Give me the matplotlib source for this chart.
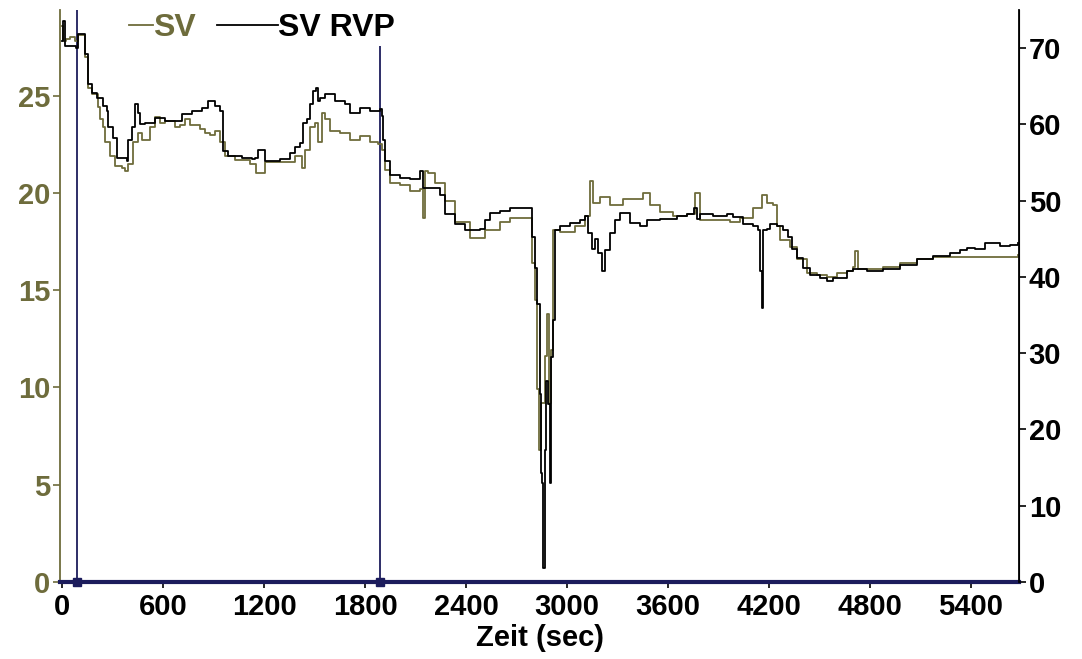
import matplotlib
matplotlib.use("Agg")
import matplotlib.pyplot as plt

# ---- data ----
t_sv = [0, 6, 24, 48, 77, 95, 107, 137, 154, 178, 214, 226, 244, 255, 285, 315, 356, 374, 392, 422,
        451, 475, 523, 552, 582, 612, 671, 701, 731, 760, 820, 849, 879, 909, 939, 968, 1028, 1087,
        1117, 1152, 1206, 1295, 1384, 1426, 1443, 1473, 1503, 1521, 1544, 1562, 1592, 1651, 1711,
        1770, 1830, 1877, 1901, 1919, 1948, 2008, 2067, 2127, 2144, 2156, 2174, 2215, 2275, 2334,
        2424, 2513, 2602, 2661, 2780, 2792, 2810, 2822, 2833, 2845, 2869, 2881, 2893, 2905, 2917,
        2958, 3047, 3107, 3136, 3154, 3196, 3255, 3332, 3451, 3493, 3552, 3629, 3713, 3760, 3790,
        3867, 3968, 4027, 4105, 4158, 4188, 4223, 4247, 4265, 4324, 4366, 4425, 4485, 4544, 4604,
        4663, 4699, 4711, 4728, 4800, 4877, 4978, 5079, 5174, 5376, 5679]
sv = [28.6, 27.8, 27.9, 28.0, 27.8, 28.1, 28.1, 27.0, 25.4, 25.1, 24.4, 23.8, 23.4, 22.6, 21.9, 21.4,
      21.3, 21.1, 21.5, 22.6, 23.1, 22.7, 23.4, 23.9, 23.6, 23.7, 23.4, 23.5, 23.8, 23.5, 23.3, 23.1,
      23.0, 23.2, 22.6, 21.9, 21.7, 21.7, 21.5, 21.0, 21.6, 21.6, 21.9, 21.3, 22.2, 23.4, 23.6, 22.6,
      24.1, 23.8, 23.2, 23.1, 22.7, 22.9, 22.6, 22.5, 22.2, 21.2, 20.5, 20.4, 20.1, 20.2, 18.7, 21.1,
      21.0, 20.5, 19.6, 18.5, 17.7, 18.1, 18.5, 18.7, 18.7, 16.4, 14.5, 9.9, 6.8, 9.2, 11.6, 13.8,
      9.2, 11.9, 18.1, 18.0, 18.3, 18.8, 20.6, 19.5, 19.8, 19.4, 19.7, 20.0, 19.4, 19.0, 18.8, 18.9,
      20.0, 18.6, 18.6, 18.5, 18.7, 19.2, 19.9, 19.5, 19.4, 18.3, 17.6, 17.2, 16.6, 15.9, 15.8, 15.7,
      15.9, 16.0, 16.2, 17.0, 16.1, 16.1, 16.2, 16.4, 16.6, 16.7, 16.7, 16.8]

t_rvp = [0, 6, 18, 83, 95, 107, 137, 154, 178, 208, 244, 267, 273, 303, 327, 362, 386, 392, 416, 434,
         451, 463, 493, 552, 612, 671, 713, 772, 832, 867, 909, 939, 956, 986, 1069, 1129, 1146, 1164,
         1206, 1295, 1354, 1384, 1414, 1432, 1455, 1473, 1491, 1509, 1521, 1533, 1562, 1622, 1681,
         1711, 1770, 1830, 1889, 1901, 1907, 1919, 1948, 2008, 2067, 2127, 2144, 2186, 2245, 2275,
         2334, 2394, 2453, 2483, 2513, 2542, 2602, 2661, 2780, 2792, 2810, 2822, 2839, 2845, 2851,
         2857, 2869, 2875, 2887, 2899, 2905, 2917, 2928, 2958, 3018, 3077, 3107, 3124, 3148, 3166,
         3184, 3208, 3225, 3255, 3285, 3315, 3374, 3433, 3475, 3552, 3653, 3713, 3754, 3772, 3790,
         3867, 3950, 3986, 4045, 4105, 4134, 4146, 4158, 4164, 4188, 4206, 4247, 4283, 4312, 4336,
         4366, 4402, 4443, 4503, 4544, 4580, 4663, 4699, 4782, 4877, 4978, 5079, 5174, 5275, 5334,
         5376, 5423, 5483, 5572, 5631, 5679]
rvp = [70.9, 73.6, 70.3, 70.0, 71.9, 71.9, 69.2, 65.3, 64.1, 63.4, 62.4, 61.8, 59.6, 58.2, 55.6, 55.6,
       55.2, 57.9, 59.6, 62.7, 61.5, 60.1, 60.2, 60.9, 60.5, 60.5, 61.4, 61.8, 62.2, 63.1, 62.4, 61.8,
       56.5, 55.9, 55.6, 55.5, 55.6, 56.7, 55.2, 55.5, 56.2, 57.1, 57.5, 60.2, 60.7, 62.7, 64.4, 64.8,
       63.1, 63.5, 64.0, 63.1, 62.7, 61.5, 62.2, 61.8, 62.0, 61.1, 57.9, 55.2, 53.3, 53.0, 52.9, 53.9,
       51.7, 51.7, 50.7, 48.3, 47.0, 46.1, 46.1, 46.3, 47.4, 48.4, 48.7, 49.0, 49.1, 45.2, 41.2, 36.5,
       24.7, 14.3, 13.0, 1.8, 17.3, 26.4, 23.4, 13.0, 29.5, 34.3, 46.1, 46.7, 47.1, 47.4, 48.0, 45.7,
       43.7, 45.0, 43.1, 40.8, 43.5, 45.8, 47.4, 48.4, 47.1, 46.7, 47.4, 47.6, 48.0, 48.3, 49.1, 47.6,
       48.3, 48.0, 48.3, 47.8, 47.0, 46.7, 46.1, 40.8, 35.9, 46.1, 46.3, 47.0, 46.7, 46.1, 45.2, 43.7,
       42.5, 41.2, 40.2, 39.8, 39.5, 39.9, 40.8, 41.1, 40.8, 41.1, 41.5, 42.4, 42.8, 43.2, 43.5, 43.8,
       43.7, 44.4, 44.1, 44.2, 44.5]

markers_t = [90, 1890]
x_ticks = [0, 600, 1200, 1800, 2400, 3000, 3600, 4200, 4800, 5400]
left_ticks = [0, 5, 10, 15, 20, 25]
right_ticks = [0, 10, 20, 30, 40, 50, 60, 70]

OLIVE = '#6e6c3c'
NAVY = '#1c1c5c'

plt.rcParams['font.family'] = ['Liberation Sans', 'DejaVu Sans']
plt.rcParams['font.weight'] = 'bold'

fig = plt.figure(figsize=(10.82, 6.59), dpi=100)
ax = fig.add_axes([60/1082, 77/659, (1019-60)/1082, (582-10)/659])
ax2 = ax.twinx()

l1, = ax.plot(t_sv, sv, color=OLIVE, lw=1.3, drawstyle='steps-post', label='SV')
l2, = ax2.plot(t_rvp, rvp, color='black', lw=1.3, drawstyle='steps-post', label='SV RVP')

for m in markers_t:
    ax.axvline(m, color=NAVY, lw=1.3, zorder=1)
ax.plot(markers_t, [0, 0], 's', color=NAVY, ms=6, clip_on=False, zorder=5)

ax.set_xlim(-12, 5685)
ax.set_ylim(0, 29.4)
ax2.set_ylim(0, 75)
ax.set_xticks(x_ticks)
ax.set_yticks(left_ticks)
ax2.set_yticks(right_ticks)

fs = 21
ax.tick_params(axis='x', labelsize=fs, colors='black', length=4, width=1.2, pad=4)
ax.tick_params(axis='y', labelsize=fs, colors=OLIVE, length=5, width=1.2, pad=2)
ax2.tick_params(axis='y', labelsize=fs, colors='black', length=5, width=1.2, pad=2)
for lab in ax.get_xticklabels() + ax.get_yticklabels() + ax2.get_yticklabels():
    lab.set_fontweight('bold')

ax.spines['top'].set_visible(False)
ax2.spines['top'].set_visible(False)
ax.spines['left'].set_color(OLIVE)
ax2.spines['left'].set_visible(False)
ax2.spines['right'].set_color('black')
ax2.spines['right'].set_linewidth(1.3)
ax.spines['left'].set_linewidth(1.3)
ax.spines['bottom'].set_color(NAVY)
ax.spines['bottom'].set_linewidth(3)
ax2.spines['bottom'].set_visible(False)

ax.set_xlabel('Zeit (sec)', fontsize=fs, fontweight='bold', labelpad=2)

lfs = 23
common = dict(ncol=1, frameon=True, framealpha=1, edgecolor='white',
              handletextpad=0.0, borderpad=0.1, borderaxespad=0.0, labelcolor='linecolor',
              prop={'weight': 'bold', 'size': lfs})
leg1 = ax2.legend(handles=[l1], loc='upper left', bbox_to_anchor=(66/959, 1.0),
                  handlelength=0.75, **common)
leg1.get_frame().set_linewidth(0)
ax2.add_artist(leg1)
leg2 = ax2.legend(handles=[l2], loc='upper left', bbox_to_anchor=(154/959, 1.0),
                  handlelength=1.9, **common)
leg2.get_frame().set_linewidth(0)

fig.savefig('out.png', dpi=100)
